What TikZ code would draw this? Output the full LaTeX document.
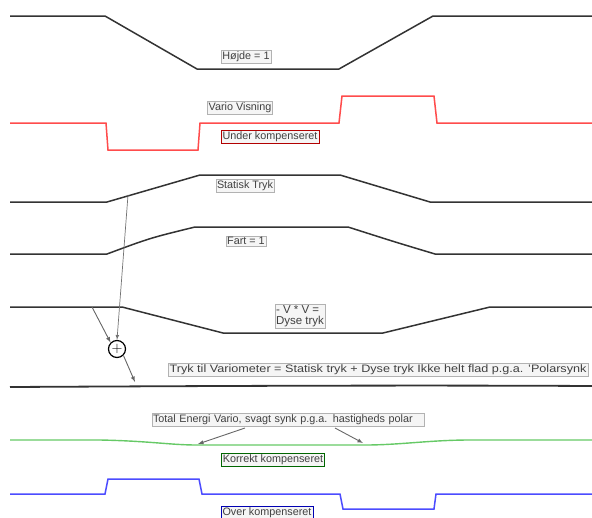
\documentclass[tikz,border=0pt]{standalone}
\usepackage{fontspec}
\usepackage{graphicx}
\setmainfont{Liberation Sans}
\usetikzlibrary{arrows}

\begin{document}
\begin{tikzpicture}[x=1pt,y=-1pt,
  curve/.style={line width=1.5pt,black!80},
  lbl/.style={draw=black!30,fill=black!4,inner sep=1.3pt,font=\fontsize{10.8}{11.5}\selectfont,text=black!75},
  pil/.style={-latex,black!60,line width=0.9pt}]
\useasboundingbox (0,0) rectangle (592,517);

% Hoejde
\draw[curve] (10,16)--(105,16)--(197,69)--(339,69)--(433,16)--(592,16);
\node[lbl] (hojde) at (246,57) {Højde = 1};

% Vario visning (under kompenseret)
\draw[curve,red!70] (10,123)--(106,123)--(108,150)--(198,150)--(200,123)--(339,123)--(342,96)--(434,96)--(437,123)--(592,123);
\node[lbl] (vario) at (240,108) {Vario Visning};
\node[lbl,draw=red!70!black] (under) at (270,137) {Under kompenseret};

% Statisk tryk
\draw[curve] (10,202)--(107,202)--(200,175)--(340,175)--(430,202)--(592,202);
\coordinate (st) at (128,195);
\node[lbl] (statisk) at (245,186) {Statisk Tryk};

% Fart
\draw[curve] (10,254)--(107,254) .. controls (150,238) .. (195,227)--(348,227) .. controls (395,242) .. (435,254)--(592,254);
\node[lbl] (fart) at (246,241) {Fart = 1};

% Dyse tryk
\draw[curve] (10,307)--(122,307)--(223,333)--(383,333)--(490,307)--(592,307);
\coordinate (dy) at (92,307);
\node[lbl,align=left,inner sep=1pt,font=\fontsize{11.5}{11.5}\selectfont] (dyse) at (300,316) {- V * V =\\Dyse tryk};

% summation
\node[draw,circle,line width=1.2pt,minimum size=17pt,inner sep=0pt,font=\Large] (sum) at (117,349) {$+$};
\draw[pil,black!55,line width=0.7pt] (st) -- (sum.north);
\draw[pil] (dy) -- (sum.north west);
\coordinate (tv) at (135,382);
\draw[pil] (sum.south east) -- (tv);

% Tryk til variometer
\draw[curve,line width=1.8pt] (10,387) .. controls (200,386) and (400,385) .. (592,386);
\node[lbl,anchor=east] (tryk) at (588,370) {\scalebox{1.17}[1]{Tryk til Variometer = Statisk tryk + Dyse tryk Ikke helt flad p.g.a. 'Polarsynk}};

% Total energi (korrekt kompenseret)
\draw[curve,green!65!black!60,line width=1.4pt] (10,440)--(100,440) .. controls (150,441) and (170,445) .. (197,445)--(365,445) .. controls (400,445) and (430,440) .. (470,440)--(592,440);
\node[lbl,text width=270pt] (te) at (288,420) {Total Energi Vario, svagt synk p.g.a. hastigheds polar};
\coordinate (te1) at (198,444);
\coordinate (te2) at (363,443);
\draw[pil] (245,428) -- (te1);
\draw[pil] (335,428) -- (te2);
\node[lbl,draw=green!40!black] (korrekt) at (273,460) {Korrekt kompenseret};

% Over kompenseret
\draw[curve,blue!70] (10,494)--(105,494)--(108,479)--(199,479)--(202,494)--(340,494)--(343,509)--(434,509)--(436,494)--(592,494);
\node[lbl,draw=blue!70!black] (over) at (267,513) {Over kompenseret};
\end{tikzpicture}
\end{document}
